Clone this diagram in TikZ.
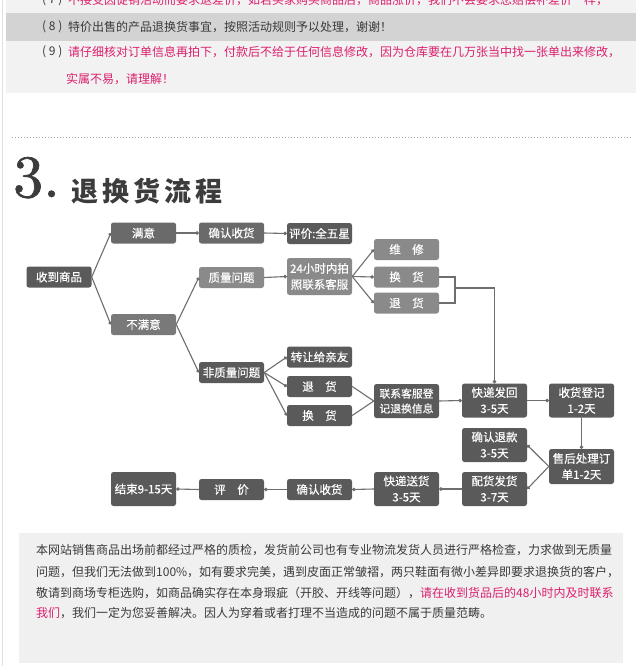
\documentclass[tikz,border=0pt]{standalone}
\usepackage{fontspec}
\newfontfamily\cjk{Noto Sans CJK SC}
\newfontfamily\cjkbox[FakeBold=0.4]{Noto Sans CJK SC}
\newfontfamily\cjkhead[LetterSpace=15]{Noto Sans CJK SC}
\newfontfamily\lmten{lmroman10-regular.otf}[FakeBold=1.2]
\usetikzlibrary{arrows.meta}
\definecolor{boxdark}{HTML}{5A5A5A}
\definecolor{boxmid}{HTML}{6A6A6A}
\definecolor{boxnm}{HTML}{797979}
\definecolor{boxlight}{HTML}{8A8A8A}
\definecolor{linec}{HTML}{6E6E6E}
\definecolor{pinkt}{HTML}{DC1F6E}
\definecolor{txt}{HTML}{3A3A3A}
\definecolor{headc}{HTML}{3C3C3C}
\definecolor{topbg}{HTML}{F2F2F2}
\definecolor{bandbg}{HTML}{D3D3D3}
\definecolor{botbg}{HTML}{F0F0F0}
\definecolor{borderc}{HTML}{E0E0E0}
\definecolor{dotc}{HTML}{A8A8A8}
\tikzset{
  box/.style={rounded corners=2.5pt, minimum width=65pt, minimum height=21pt,
    inner sep=0pt, text=white, align=center,
    font=\cjkbox\fontsize{11.5}{16}\selectfont},
  dk/.style={box, fill=boxdark},
  md/.style={box, fill=boxmid},
  nm/.style={box, fill=boxnm},
  lt/.style={box, fill=boxlight},
  tall/.style={minimum height=34pt},
  link/.style={draw=linec, line width=1.1pt},
  dotend/.style={-{Circle[length=3.4pt]}},
  txtline/.style={anchor=west, inner sep=0pt, font=\cjk\fontsize{12}{14}\selectfont}
}
\begin{document}
\begin{tikzpicture}[x=1pt,y=-1pt]
\useasboundingbox (0,0) rectangle (640,666);
\clip (0,0) rectangle (640,666);
\fill[white] (0,0) rectangle (640,666);
\draw[draw=borderc, line width=0.8pt] (2,0) -- (2,666);
% top notes box
\fill[topbg] (6,-5) rectangle (636,93);
\fill[bandbg] (6,13) rectangle (636,41);
\node[txtline, text=txt] (n7) at (42,0) {( 7 )};
\node[txtline, text=pinkt] (t7) at (68,0) {不接受因促销活动而要求退差价，如若买家购买商品后，商品涨价，我们不会要求您赔偿补差价一样，};
\node[txtline, text=txt] (n8) at (42,27) {( 8 )};
\node[txtline, text=txt] (t8) at (68,27) {特价出售的产品退换货事宜，按照活动规则予以处理，谢谢！};
\node[txtline, text=txt] (n9) at (42,52) {( 9 )};
\node[txtline, text=pinkt] (t9a) at (68,52) {请仔细核对订单信息再拍下，付款后不给于任何信息修改，因为仓库要在几万张当中找一张单出来修改，};
\node[txtline, text=pinkt] (t9b) at (66,79) {实属不易，请理解！};
% dotted separator
\draw[dotc, line width=1pt, dash pattern=on 1pt off 2pt] (12,137) -- (632,137);
% heading
\node[anchor=base west, inner sep=0pt, text=headc, font=\lmten\fontsize{60}{60}\selectfont] (h3) at (13,197) {3.};
\node[anchor=west, inner sep=0pt, text=headc, font=\cjkhead\bfseries\fontsize{27}{27}\selectfont] (ht) at (71,191.5) {退换货流程};
% flowchart nodes
\node[dk] (recv) at (59,277) {收到商品};
\node[md] (my) at (143.5,233) {满意};
\node[md] (qs1) at (231.5,233) {确认收货};
\node[dk] (pj1) at (319.5,233.5) {评价:全五星};
\node[nm] (bmy) at (143.5,324.5) {不满意};
\node[lt] (zl) at (231.5,277.5) {质量问题};
\node[lt, minimum height=37pt] (h24) at (319.5,276.5) {24小时内拍\\照联系客服};
\node[lt] (wx) at (406.5,249.5) {维\hspace{1em}修};
\node[lt] (hh1) at (406.5,277) {换\hspace{1em}货};
\node[lt] (th1) at (406.5,303) {退\hspace{1em}货};
\node[dk] (fzl) at (231.5,372.5) {非质量问题};
\node[dk] (zr) at (319.5,357) {转让给亲友};
\node[dk] (th2) at (319.5,386.5) {退\hspace{1em}货};
\node[dk] (hh2) at (319.5,415.5) {换\hspace{1em}货};
\node[dk, tall, font=\cjkbox\fontsize{10.8}{15}\selectfont] (lx) at (406.5,401) {联系客服登\\记退换信息};
\node[dk, tall] (kd) at (494.5,400.5) {快递发回\\3-5天};
\node[dk, tall] (shd) at (581.5,400.5) {收货登记\\1-2天};
\node[dk, tall] (qrtk) at (494.5,445) {确认退款\\3-5天};
\node[dk, tall, minimum height=35pt] (shcl) at (581.5,466.5) {售后处理订\\单1-2天};
\node[dk, tall] (ph) at (494.5,489) {配货发货\\3-7天};
\node[dk, tall] (ks) at (406.5,489) {快递送货\\3-5天};
\node[dk] (qs2) at (319.5,489.5) {确认收货};
\node[dk] (pj2) at (231.5,489.5) {评\hspace{1em}价};
\node[dk, tall] (js) at (143.5,489) {结束9-15天};
% connectors
\draw[link, dotend] (recv.east) -- (my.west);
\draw[link, dotend] (recv.east) -- (bmy.west);
\draw[link, dotend] (my.east) -- (qs1.west);
\draw[link, dotend] (qs1.east) -- (pj1.west);
\draw[link, dotend] (bmy.east) -- (zl.west);
\draw[link, dotend] (bmy.east) -- (fzl.west);
\draw[link, dotend] (zl.east) -- (h24.west);
\draw[link, dotend] (h24.east) -- (wx.west);
\draw[link, dotend] (h24.east) -- (hh1.west);
\draw[link, dotend] (h24.east) -- (th1.west);
\coordinate (br) at (455,288);
\draw[link] (hh1.east) -- (455,277) -- (455,303) -- (th1.east);
\draw[link, dotend] (br) -- (kd.north |- br) -- (kd.north);
\draw[link, dotend] (fzl.east) -- (zr.west);
\draw[link, dotend] (fzl.east) -- (th2.west);
\draw[link, dotend] (fzl.east) -- (hh2.west);
\draw[link] (th2.east) -- (lx.west);
\draw[link] (hh2.east) -- (lx.west);
\draw[link, dotend] (lx.east) -- (kd.west);
\draw[link, dotend] (kd.east) -- (shd.west);
\draw[link, dotend] (shd.south) -- (shcl.north);
\draw[link, dotend] (shcl.west) -- (qrtk.east);
\draw[link, dotend] (shcl.west) -- (ph.east);
\draw[link, dotend] (ph.west) -- (ks.east);
\draw[link, dotend] (ks.west) -- (qs2.east);
\draw[link, dotend] (qs2.west) -- (pj2.east);
\draw[link, dotend] (pj2.west) -- (js.east);
% bottom note
\fill[botbg] (19,533) rectangle (623,663);
\node[txtline, text=txt] (b1) at (36,550) {本网站销售商品出场前都经过严格的质检，发货前公司也有专业物流发货人员进行严格检查，力求做到无质量};
\node[txtline, text=txt] (b2) at (36,572) {问题，但我们无法做到100\%，如有要求完美，遇到皮面正常皱褶，两只鞋面有微小差异即要求退换货的客户，};
\node[txtline, text=txt] (b3) at (36,593) {敬请到商场专柜选购，如商品确实存在本身瑕疵（开胶、开线等问题），\textcolor{pinkt}{请在收到货品后的48小时内及时联系}};
\node[txtline, text=txt] (b4) at (36,613) {\textcolor{pinkt}{我们}，我们一定为您妥善解决。因人为穿着或者打理不当造成的问题不属于质量范畴。};
\end{tikzpicture}
\end{document}
